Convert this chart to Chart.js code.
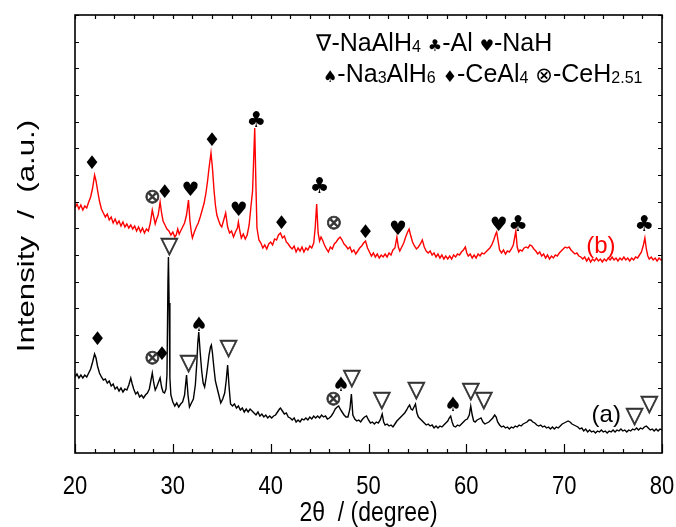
<!DOCTYPE html>
<html>
<head>
<meta charset="utf-8">
<script src="https://cdn.jsdelivr.net/npm/chart.js@4.4.1/dist/chart.umd.min.js"></script>
<style>
  html, body { margin: 0; padding: 0; background: #fff; }
  #wrap { width: 676px; height: 527px; }
</style>
</head>
<body>
<div id="wrap"><canvas id="xrdChart" width="676" height="527"></canvas></div>
<script>
// XRD patterns, intensity (a.u.)
const xTicks = [20, 30, 40, 50, 60, 70, 80];

// (b) upper red trace
const redX = [
  20.0, 20.2, 20.4, 20.6, 20.8, 21.0, 21.2, 21.4, 21.6, 21.8,
  22.0, 22.15, 22.3, 22.5, 22.7, 22.9, 23.1, 23.3, 23.5, 23.7,
  23.9, 24.1, 24.3, 24.5, 24.7, 24.9, 25.1, 25.3, 25.5, 25.7,
  25.9, 26.1, 26.3, 26.5, 26.7, 26.9, 27.1, 27.3, 27.5, 27.7,
  27.9, 28.05, 28.2, 28.35, 28.5, 28.7, 28.85, 29.0, 29.2, 29.4,
  29.6, 29.8, 30.0, 30.2, 30.35, 30.5, 30.65, 30.8, 31.0, 31.2,
  31.4, 31.6, 31.75, 31.9, 32.0, 32.2, 32.4, 32.6, 32.8, 33.0,
  33.2, 33.4, 33.55, 33.7, 33.9, 34.05, 34.2, 34.35, 34.5, 34.7,
  34.85, 35.0, 35.2, 35.4, 35.6, 35.8, 36.0, 36.2, 36.4, 36.6,
  36.7, 36.85, 37.0, 37.2, 37.4, 37.6, 37.8, 38.0, 38.15, 38.25,
  38.37, 38.5, 38.6, 38.8, 39.0, 39.2, 39.4, 39.6, 39.8, 40.0,
  40.2, 40.4, 40.6, 40.8, 41.0, 41.2, 41.4, 41.6, 41.8, 42.0,
  42.2, 42.4, 42.6, 42.8, 43.0, 43.2, 43.4, 43.6, 43.8, 44.0,
  44.2, 44.4, 44.55, 44.7, 44.85, 45.0, 45.15, 45.3, 45.5, 45.7,
  45.9, 46.1, 46.3, 46.5, 46.7, 46.9, 47.1, 47.3, 47.5, 47.7,
  47.9, 48.1, 48.3, 48.5, 48.7, 48.9, 49.1, 49.3, 49.5, 49.7,
  49.9, 50.1, 50.3, 50.5, 50.7, 50.9, 51.1, 51.3, 51.5, 51.7,
  51.9, 52.1, 52.3, 52.5, 52.7, 52.9, 53.05, 53.2, 53.4, 53.6,
  53.8, 54.0, 54.15, 54.3, 54.5, 54.7, 54.9, 55.1, 55.3, 55.5,
  55.7, 55.9, 56.1, 56.3, 56.5, 56.7, 56.9, 57.1, 57.3, 57.5,
  57.7, 57.9, 58.1, 58.3, 58.5, 58.7, 58.9, 59.1, 59.3, 59.5,
  59.7, 59.9, 60.05, 60.2, 60.4, 60.6, 60.8, 61.0, 61.2, 61.4,
  61.6, 61.8, 62.0, 62.2, 62.4, 62.6, 62.8, 63.0, 63.1, 63.25,
  63.4, 63.6, 63.8, 64.0, 64.2, 64.4, 64.6, 64.8, 64.95, 65.06,
  65.2, 65.35, 65.5, 65.7, 65.9, 66.1, 66.3, 66.5, 66.7, 66.9,
  67.1, 67.3, 67.5, 67.7, 67.9, 68.1, 68.3, 68.5, 68.7, 68.9,
  69.1, 69.3, 69.5, 69.7, 69.9, 70.1, 70.3, 70.5, 70.7, 70.9,
  71.1, 71.3, 71.5, 71.7, 71.9, 72.1, 72.3, 72.5, 72.7, 72.9,
  73.1, 73.3, 73.5, 73.7, 73.9, 74.1, 74.3, 74.5, 74.7, 74.9,
  75.1, 75.3, 75.5, 75.7, 75.9, 76.1, 76.3, 76.5, 76.7, 76.9,
  77.1, 77.3, 77.5, 77.7, 77.9, 78.1, 78.25, 78.4, 78.55, 78.7,
  78.9, 79.1, 79.3, 79.5, 79.7, 79.9, 80.0];
const redY = [
  245, 249, 244, 248, 243, 247, 245, 251, 256, 265,
  278, 272, 263, 252, 244, 240, 236, 239, 233, 236,
  230, 234, 229, 232, 227, 231, 226, 229, 225, 228,
  224, 227, 222, 226, 221, 225, 220, 224, 222, 230,
  243, 236, 229, 234, 238, 251, 240, 232, 228, 224,
  222, 218, 221, 216, 218, 224, 219, 222, 226, 230,
  238, 253, 232, 220, 215, 221, 226, 230, 236, 243,
  250, 261, 272, 285, 300, 285, 264, 248, 238, 232,
  228, 226, 233, 240, 226, 220, 222, 216, 221, 225,
  231, 222, 215, 219, 214, 218, 228, 248, 262, 290,
  325, 265, 225, 213, 210, 205, 208, 204, 209, 211,
  208, 214, 213, 218, 220, 215, 217, 211, 209, 206,
  204, 207, 201, 205, 202, 206, 201, 205, 203, 207,
  205, 210, 225, 249, 220, 212, 216, 213, 208, 204,
  201, 206, 204, 209, 211, 214, 216, 213, 209, 207,
  204, 206, 201, 203, 199, 202, 205, 207, 210, 212,
  205, 201, 197, 200, 196, 199, 195, 198, 196, 199,
  196, 200, 198, 203, 205, 216, 206, 202, 206, 210,
  216, 221, 224, 218, 211, 207, 204, 206, 209, 213,
  206, 202, 200, 202, 198, 200, 196, 199, 195, 198,
  194, 197, 194, 197, 194, 198, 196, 199, 198, 201,
  203, 206, 200, 197, 199, 195, 198, 195, 199, 197,
  200, 199, 201, 203, 205, 208, 213, 219, 221, 212,
  203, 200, 203, 199, 202, 201, 204, 208, 216, 222,
  206, 201, 203, 202, 205, 206, 205, 208, 207, 204,
  202, 199, 201, 197, 199, 195, 198, 194, 197, 195,
  198, 197, 200, 202, 204, 206, 205, 206, 203, 201,
  199, 200, 197, 196, 194, 196, 192, 195, 191, 194,
  192, 195, 192, 194, 191, 194, 192, 195, 193, 196,
  193, 195, 192, 195, 193, 196, 193, 195, 192, 195,
  193, 196, 195, 198, 201, 208, 215, 204, 197, 194,
  196, 193, 195, 192, 195, 193, 194];

// (a) lower black trace
const blackX = [
  20.0, 20.2, 20.4, 20.6, 20.8, 21.0, 21.2, 21.4, 21.6, 21.8,
  22.0, 22.15, 22.3, 22.5, 22.7, 22.9, 23.1, 23.3, 23.5, 23.7,
  23.9, 24.1, 24.3, 24.5, 24.7, 24.9, 25.1, 25.3, 25.5, 25.7,
  25.85, 26.0, 26.2, 26.4, 26.6, 26.8, 27.0, 27.2, 27.4, 27.6,
  27.75, 27.9, 28.05, 28.2, 28.35, 28.5, 28.7, 28.85, 29.0, 29.15,
  29.3, 29.4, 29.5, 29.55, 29.62, 29.7, 29.8, 30.0, 30.2, 30.4,
  30.6, 30.8, 31.0, 31.2, 31.4, 31.55, 31.7, 31.9, 32.1, 32.3,
  32.45, 32.55, 32.65, 32.8, 32.95, 33.1, 33.25, 33.4, 33.55, 33.7,
  33.85, 33.94, 34.05, 34.2, 34.35, 34.5, 34.7, 34.9, 35.1, 35.3,
  35.45, 35.6, 35.75, 35.9, 36.1, 36.3, 36.5, 36.7, 36.9, 37.1,
  37.3, 37.5, 37.7, 37.9, 38.1, 38.3, 38.5, 38.7, 38.9, 39.1,
  39.3, 39.5, 39.7, 39.9, 40.1, 40.3, 40.5, 40.7, 40.9, 41.0,
  41.2, 41.4, 41.6, 41.8, 42.0, 42.2, 42.4, 42.6, 42.8, 43.0,
  43.2, 43.4, 43.6, 43.8, 44.0, 44.2, 44.4, 44.6, 44.8, 45.0,
  45.2, 45.4, 45.6, 45.8, 46.0, 46.2, 46.4, 46.6, 46.8, 46.95,
  47.1, 47.3, 47.5, 47.7, 47.9, 48.1, 48.25, 48.4, 48.6, 48.8,
  49.0, 49.2, 49.4, 49.6, 49.8, 50.0, 50.2, 50.4, 50.6, 50.8,
  51.0, 51.2, 51.4, 51.55, 51.7, 51.9, 52.1, 52.3, 52.5, 52.7,
  52.9, 53.1, 53.3, 53.5, 53.7, 53.9, 54.05, 54.2, 54.35, 54.5,
  54.65, 54.8, 54.95, 55.1, 55.3, 55.5, 55.7, 55.9, 56.1, 56.3,
  56.5, 56.7, 56.9, 57.1, 57.3, 57.5, 57.7, 57.9, 58.1, 58.25,
  58.4, 58.55, 58.7, 58.9, 59.1, 59.3, 59.5, 59.7, 59.9, 60.1,
  60.3, 60.45, 60.6, 60.75, 60.9, 61.1, 61.3, 61.5, 61.7, 61.9,
  62.1, 62.3, 62.5, 62.7, 62.9, 63.05, 63.2, 63.4, 63.6, 63.8,
  64.0, 64.2, 64.4, 64.6, 64.8, 65.0, 65.2, 65.4, 65.6, 65.8,
  66.0, 66.2, 66.4, 66.6, 66.8, 67.0, 67.2, 67.4, 67.6, 67.8,
  68.0, 68.2, 68.4, 68.6, 68.8, 69.0, 69.2, 69.4, 69.6, 69.8,
  70.0, 70.2, 70.4, 70.6, 70.8, 71.0, 71.2, 71.4, 71.6, 71.8,
  72.0, 72.2, 72.4, 72.6, 72.8, 73.0, 73.2, 73.4, 73.6, 73.8,
  74.0, 74.2, 74.4, 74.6, 74.8, 75.0, 75.2, 75.4, 75.6, 75.8,
  76.0, 76.2, 76.4, 76.6, 76.8, 77.0, 77.2, 77.4, 77.6, 77.8,
  78.0, 78.2, 78.4, 78.6, 78.8, 79.0, 79.2, 79.4, 79.6, 79.8,
  80.0];
const blackY = [
  76, 79, 75, 78, 75, 78, 76, 80, 84, 91,
  99, 95, 87, 80, 76, 73, 74, 70, 72, 67,
  69, 64, 66, 62, 65, 61, 64, 63, 68, 75,
  69, 64, 59, 61, 56, 58, 55, 58, 60, 64,
  72, 80, 70, 63, 66, 70, 75, 66, 61, 60,
  64, 78, 170, 196, 150, 75, 58, 51, 47, 50,
  46, 49, 51, 58, 78, 58, 46, 50, 54, 68,
  90, 110, 121, 100, 82, 70, 66, 75, 86, 98,
  106, 108, 100, 85, 72, 66, 58, 50, 54, 60,
  72, 88, 66, 49, 47, 49, 45, 47, 43, 45,
  41, 44, 41, 44, 42, 40, 38, 41, 37, 39,
  36, 38, 35, 37, 35, 37, 38, 41, 44, 45,
  42, 39, 40, 36, 35, 33, 35, 31, 33, 31,
  34, 33, 35, 33, 36, 34, 37, 35, 37, 35,
  38, 36, 37, 34, 35, 37, 40, 44, 46, 47,
  44, 41, 38, 36, 36, 44, 59, 38, 34, 32,
  33, 31, 34, 36, 37, 33, 30, 31, 29, 31,
  30, 33, 39, 31, 28, 29, 27, 28, 26, 29,
  32, 34, 36, 38, 40, 43, 46, 48, 44, 43,
  46, 49, 40, 36, 34, 32, 30, 28, 29, 27,
  28, 25, 27, 25, 27, 26, 28, 30, 32, 35,
  37, 31, 27, 26, 28, 27, 29, 31, 33, 34,
  38, 47, 38, 32, 31, 33, 34, 35, 31, 29,
  30, 31, 33, 35, 38, 36, 31, 28, 26, 27,
  25, 26, 24, 26, 25, 27, 26, 28, 27, 29,
  30, 31, 33, 33, 31, 30, 28, 27, 28, 26,
  27, 25, 26, 24, 26, 24, 26, 25, 27, 29,
  30, 31, 32, 31, 29, 28, 27, 26, 24, 25,
  22, 24, 21, 23, 21, 22, 20, 22, 21, 23,
  21, 22, 20, 22, 21, 23, 21, 23, 22, 24,
  22, 23, 21, 23, 22, 24, 23, 25, 23, 25,
  24, 26, 27, 25, 23, 24, 22, 24, 22, 24,
  23];

// phase markers: symbol, 2theta, height
const markSym = ['♦', '⊗', '♦', '♥', '♦', '♥', '♣', '♦', '♣', '⊗', '♦', '♥', '♥', '♣', '♣',
  '♦', '⊗', '♦', '▽', '▽', '♠', '▽', '⊗', '♠', '▽', '▽', '▽', '♠', '▽', '▽', '▽', '▽'];
const markX = [21.75, 27.9, 29.17, 31.8, 34.0, 36.74, 38.54, 41.1, 45.0, 46.45, 49.7, 53.0, 63.3, 65.3, 78.2,
  22.3, 27.9, 28.9, 29.65, 31.6, 32.7, 35.7, 46.4, 47.2, 48.3, 51.36, 54.9, 58.65, 60.46, 61.8, 77.2, 78.7];
const markY = [291, 256, 262, 265, 314, 245, 335, 231, 269, 230, 222, 226, 230, 231, 231,
  115, 95, 100, 206, 89, 130, 104, 54, 70, 74, 52, 62, 50, 61, 52, 36, 48];

const traceNames = ['(a)', '(b)'];
const traceLabelX = [74.3, 73.75];
const traceLabelY = [37, 206];

const symFont = {
  '♦': '19px "DejaVu Sans"', '♥': '20px "DejaVu Sans"', '♣': '22px "DejaVu Sans"',
  '♠': '20px "DejaVu Sans"', '⊗': '20px "DejaVu Sans"', '▽': '23px "DejaVu Sans"'
};
const TXT = '"Liberation Sans", Arial, sans-serif';

const toPts = (xs, ys) => xs.map((x, i) => ({ x: x, y: ys[i] }));

// centre a glyph on (cx, cy) using its real ink box
function drawCentered(ctx, s, cx, cy, outline) {
  ctx.textAlign = 'center';
  ctx.textBaseline = 'alphabetic';
  const m = ctx.measureText(s);
  const y = cy + (m.actualBoundingBoxAscent - m.actualBoundingBoxDescent) / 2;
  ctx.fillText(s, cx, y);
  if (outline) ctx.strokeText(s, cx, y);
}

// text drawn a bit taller than wide, like the source figure
function drawTall(ctx, s, x, y, sy, rot) {
  ctx.save();
  ctx.translate(x, y);
  if (rot) ctx.rotate(rot);
  ctx.scale(rot ? sy : 1, rot ? 1 : sy);
  ctx.fillText(s, 0, 0);
  ctx.restore();
}

// draw a row of text runs (for subscripts and symbols)
function drawRuns(ctx, runs, x, y, size) {
  ctx.textAlign = 'left';
  ctx.textBaseline = 'alphabetic';
  runs.forEach(r => {
    let f = size + 'px ' + TXT, dy = 0;
    if (r.sub) { f = Math.round(size * 0.62) + 'px ' + TXT; dy = 1; }
    if (r.sym) { f = r.sym + 'px "DejaVu Sans"'; }
    ctx.font = f;
    ctx.fillText(r.t, x, y + dy);
    x += ctx.measureText(r.t).width;
  });
}

const decor = {
  id: 'decor',
  afterDatasetsDraw(chart) {
    const ctx = chart.ctx;
    const a = chart.chartArea;
    const xs = chart.scales.x, ys = chart.scales.y;
    ctx.save();
    ctx.strokeStyle = '#000';
    ctx.fillStyle = '#000';

    // frame
    ctx.lineWidth = 1.6;
    ctx.strokeRect(a.left, a.top, a.right - a.left, a.bottom - a.top);

    // x ticks, bottom and top, pointing inward
    ctx.lineWidth = 1.2;
    ctx.beginPath();
    for (let v = 20; v <= 80; v += 2) {
      const px = Math.round(xs.getPixelForValue(v)) + 0.5;
      const major = v % 10 === 0;
      ctx.moveTo(px, a.bottom);
      ctx.lineTo(px, a.bottom - (major ? 9 : 4));
      ctx.moveTo(px, a.top);
      ctx.lineTo(px, a.top + 4);
    }
    // y ticks, left and right
    for (let k = 0; k <= 15; k++) {
      const py = Math.round(ys.getPixelForValue(38 + k * 400 / 15)) + 0.5;
      ctx.moveTo(a.left, py);
      ctx.lineTo(a.left + 4, py);
      ctx.moveTo(a.right, py);
      ctx.lineTo(a.right - 4, py);
    }
    ctx.stroke();

    // x tick labels
    ctx.font = '22px ' + TXT;
    ctx.textAlign = 'center';
    ctx.textBaseline = 'middle';
    xTicks.forEach(v => drawTall(ctx, String(v), xs.getPixelForValue(v), a.bottom + 34, 1.2));

    // axis titles
    ctx.font = '23px ' + TXT;
    drawTall(ctx, '2θ  / (degree)', (a.left + a.right) / 2, a.bottom + 60, 1.2);
    ctx.font = '24px ' + TXT;
    drawTall(ctx, 'Intensity  /  (a.u.)', 27, (a.top + a.bottom) / 2 + 2, 1.3, -Math.PI / 2);

    // phase markers
    ctx.lineWidth = 0.7;
    markSym.forEach((s, i) => {
      ctx.font = symFont[s];
      const hollow = s === '▽' || s === '⊗';
      ctx.fillStyle = hollow ? '#333' : '#000';
      ctx.strokeStyle = '#333';
      drawCentered(ctx, s, xs.getPixelForValue(markX[i]), ys.getPixelForValue(markY[i]), hollow);
    });

    // trace names
    ctx.font = '24px ' + TXT;
    traceNames.forEach((t, i) => {
      ctx.fillStyle = i === 1 ? '#ff0000' : '#000';
      drawCentered(ctx, t, xs.getPixelForValue(traceLabelX[i]), ys.getPixelForValue(traceLabelY[i]));
    });

    // phase legend
    ctx.fillStyle = '#000';
    drawRuns(ctx, [
      { t: '∇', sym: 23 }, { t: '-NaAlH' }, { t: '4', sub: true }, { t: ' ' },
      { t: '♣', sym: 16 }, { t: '-Al ' }, { t: '♥', sym: 16 }, { t: '-NaH' }
    ], 316, 51, 25);
    drawRuns(ctx, [
      { t: '♠', sym: 16 }, { t: '-Na' }, { t: '3', sub: true }, { t: 'AlH' }, { t: '6', sub: true }, { t: ' ' },
      { t: '♦', sym: 16 }, { t: '-CeAl' }, { t: '4', sub: true }, { t: ' ' },
      { t: '⊗', sym: 21 }, { t: '-CeH' }, { t: '2.51', sub: true }
    ], 323, 82, 25);
    ctx.restore();
  }
};

new Chart(document.getElementById('xrdChart'), {
  type: 'line',
  data: {
    datasets: [
      {
        label: '(a)',
        data: toPts(blackX, blackY),
        borderColor: '#000000',
        borderWidth: 1.4,
        pointRadius: 0,
        tension: 0
      },
      {
        label: '(b)',
        data: toPts(redX, redY),
        borderColor: '#ff0000',
        borderWidth: 1.4,
        pointRadius: 0,
        tension: 0
      }
    ]
  },
  options: {
    responsive: false,
    animation: false,
    layout: { padding: { left: 75, right: 14, top: 15, bottom: 74 } },
    plugins: { legend: { display: false }, tooltip: { enabled: false } },
    scales: {
      x: { type: 'linear', min: 20, max: 80, display: false },
      y: { min: 0, max: 438, display: false }
    }
  },
  plugins: [decor]
});
</script>
</body>
</html>
